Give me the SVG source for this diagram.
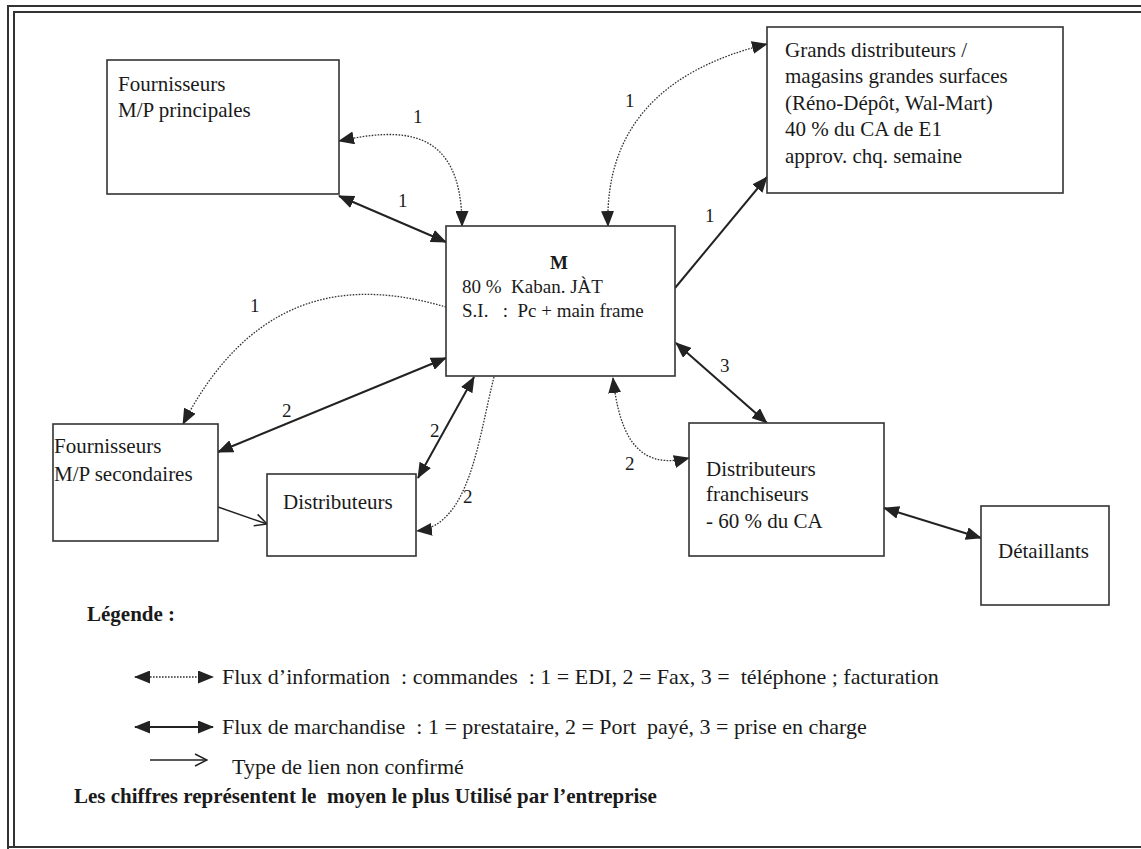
<svg xmlns="http://www.w3.org/2000/svg" width="1141" height="849" viewBox="0 0 1141 849">
  <style>
    .frame { fill: none; stroke: #333; stroke-width: 2; }
    .box { fill: #fff; stroke: #333; stroke-width: 1.6; }
    .txt { font-family: "Liberation Serif", "Times New Roman", serif; font-size: 21px; fill: #1a1a1a; }
    .leg { font-family: "Liberation Serif", "Times New Roman", serif; font-size: 22px; fill: #1a1a1a; }
    .mtxt { font-family: "Liberation Serif", "Times New Roman", serif; font-size: 19px; fill: #1a1a1a; }
    .bold { font-weight: bold; }
    .num { font-family: "Liberation Serif", "Times New Roman", serif; font-size: 19px; fill: #1a1a1a; }
    .solid { fill: none; stroke: #222; stroke-width: 2; }
    .info { fill: none; stroke: #333; stroke-width: 1.3; stroke-dasharray: 1.6 1.4; }
    .thin { fill: none; stroke: #222; stroke-width: 1.5; }
    .dbl { marker-start: url(#head); marker-end: url(#head); }
    .one { marker-end: url(#head); }
    .open { marker-end: url(#openhead); }
  </style>
  <defs>
    <marker id="head" viewBox="0 0 16 13" refX="15" refY="6.5" markerWidth="16" markerHeight="13" markerUnits="userSpaceOnUse" orient="auto-start-reverse">
      <path d="M0,0 L16,6.5 L0,13 z" fill="#222"/>
    </marker>
    <marker id="openhead" viewBox="0 0 14 14" refX="13" refY="7" markerWidth="14" markerHeight="14" markerUnits="userSpaceOnUse" orient="auto">
      <path d="M1,1 L13,7 L1,13" fill="none" stroke="#222" stroke-width="1.5"/>
    </marker>
  </defs>

  <rect width="1141" height="849" fill="#fff"/>

  <!-- page frame (double rule) -->
  <g id="frame">
    <path class="frame" d="M8 849 L8 6 L1141 6"/>
    <path class="frame" d="M14 848 L14 12 L1141 12"/>
    <path class="frame" d="M8 847 L1141 847"/>
  </g>

  <!-- connectors -->
  <g id="connectors">
    <!-- merchandise flows -->
    <line class="solid dbl" x1="339" y1="196" x2="446" y2="242"/>
    <line class="solid one" x1="675" y1="288" x2="767" y2="177"/>
    <line class="solid dbl" x1="218" y1="452" x2="446" y2="358"/>
    <line class="solid dbl" x1="418" y1="478" x2="474" y2="377"/>
    <line class="solid dbl" x1="676" y1="343" x2="767" y2="423"/>
    <line class="solid dbl" x1="884" y1="508" x2="981" y2="538"/>
    <!-- information flows -->
    <path class="info dbl" d="M339 141 C400 128, 462 125, 462 226"/>
    <path class="info dbl" d="M608 226 C605 130, 660 70, 767 44"/>
    <path class="info one" d="M446 307 C370 285, 260 275, 183 424"/>
    <path class="info one" d="M494 377 C478 440, 470 525, 417 531"/>
    <path class="info dbl" d="M613 378 C620 440, 640 470, 689 458"/>
    <!-- unconfirmed link -->
    <line class="thin open" x1="218" y1="507" x2="267" y2="524"/>

    <!-- flow labels -->
    <text class="num" x="413" y="123">1</text>
    <text class="num" x="398" y="207">1</text>
    <text class="num" x="625" y="107">1</text>
    <text class="num" x="705" y="222">1</text>
    <text class="num" x="250" y="312">1</text>
    <text class="num" x="282" y="417">2</text>
    <text class="num" x="430" y="437">2</text>
    <text class="num" x="463" y="503">2</text>
    <text class="num" x="720" y="372">3</text>
    <text class="num" x="625" y="470">2</text>
  </g>

  <!-- nodes -->
  <g id="fournisseurs-principales">
    <rect class="box" x="107" y="60" width="232" height="134"/>
    <text class="txt" x="118" y="91">Fournisseurs</text>
    <text class="txt" x="118" y="117">M/P principales</text>
  </g>

  <g id="entreprise-m">
    <rect class="box" x="446" y="226" width="229" height="150"/>
    <text class="mtxt bold" x="559" y="269" text-anchor="middle">M</text>
    <text class="mtxt" x="462" y="293" xml:space="preserve">80 %  Kaban. JÀT</text>
    <text class="mtxt" x="462" y="317" xml:space="preserve">S.I.   :  Pc + main frame</text>
  </g>

  <g id="grands-distributeurs">
    <rect class="box" x="767" y="27" width="296" height="166"/>
    <text class="txt" x="785" y="57">Grands distributeurs /</text>
    <text class="txt" x="785" y="83">magasins grandes surfaces</text>
    <text class="txt" x="785" y="110">(Réno-Dépôt, Wal-Mart)</text>
    <text class="txt" x="785" y="136">40 % du CA de E1</text>
    <text class="txt" x="785" y="163">approv. chq. semaine</text>
  </g>

  <g id="fournisseurs-secondaires">
    <rect class="box" x="53" y="424" width="165" height="117"/>
    <text class="txt" x="54" y="453">Fournisseurs</text>
    <text class="txt" x="54" y="481">M/P secondaires</text>
  </g>

  <g id="distributeurs">
    <rect class="box" x="267" y="474" width="149" height="82"/>
    <text class="txt" x="283" y="509">Distributeurs</text>
  </g>

  <g id="distributeurs-franchiseurs">
    <rect class="box" x="689" y="423" width="195" height="133"/>
    <text class="txt" x="706" y="476">Distributeurs</text>
    <text class="txt" x="706" y="501">franchiseurs</text>
    <text class="txt" x="706" y="528">- 60 % du CA</text>
  </g>

  <g id="detaillants">
    <rect class="box" x="981" y="506" width="128" height="99"/>
    <text class="txt" x="998" y="558">Détaillants</text>
  </g>

  <!-- legend -->
  <g id="legende">
    <text class="txt bold" x="87" y="621">Légende :</text>
    <line class="info dbl" x1="135" y1="677" x2="213" y2="677"/>
    <text class="leg" x="222" y="684" xml:space="preserve">Flux d’information  : commandes  : 1 = EDI, 2 = Fax, 3 =  téléphone ; facturation</text>
    <line class="solid dbl" x1="135" y1="727" x2="213" y2="727"/>
    <text class="leg" x="222" y="734" xml:space="preserve">Flux de marchandise  : 1 = prestataire, 2 = Port  payé, 3 = prise en charge</text>
    <line class="thin open" x1="150" y1="760" x2="207" y2="760"/>
    <text class="leg" x="232" y="774">Type de lien non confirmé</text>
    <text class="txt bold" x="74" y="803" xml:space="preserve">Les chiffres représentent le  moyen le plus Utilisé par l’entreprise</text>
  </g>
</svg>
